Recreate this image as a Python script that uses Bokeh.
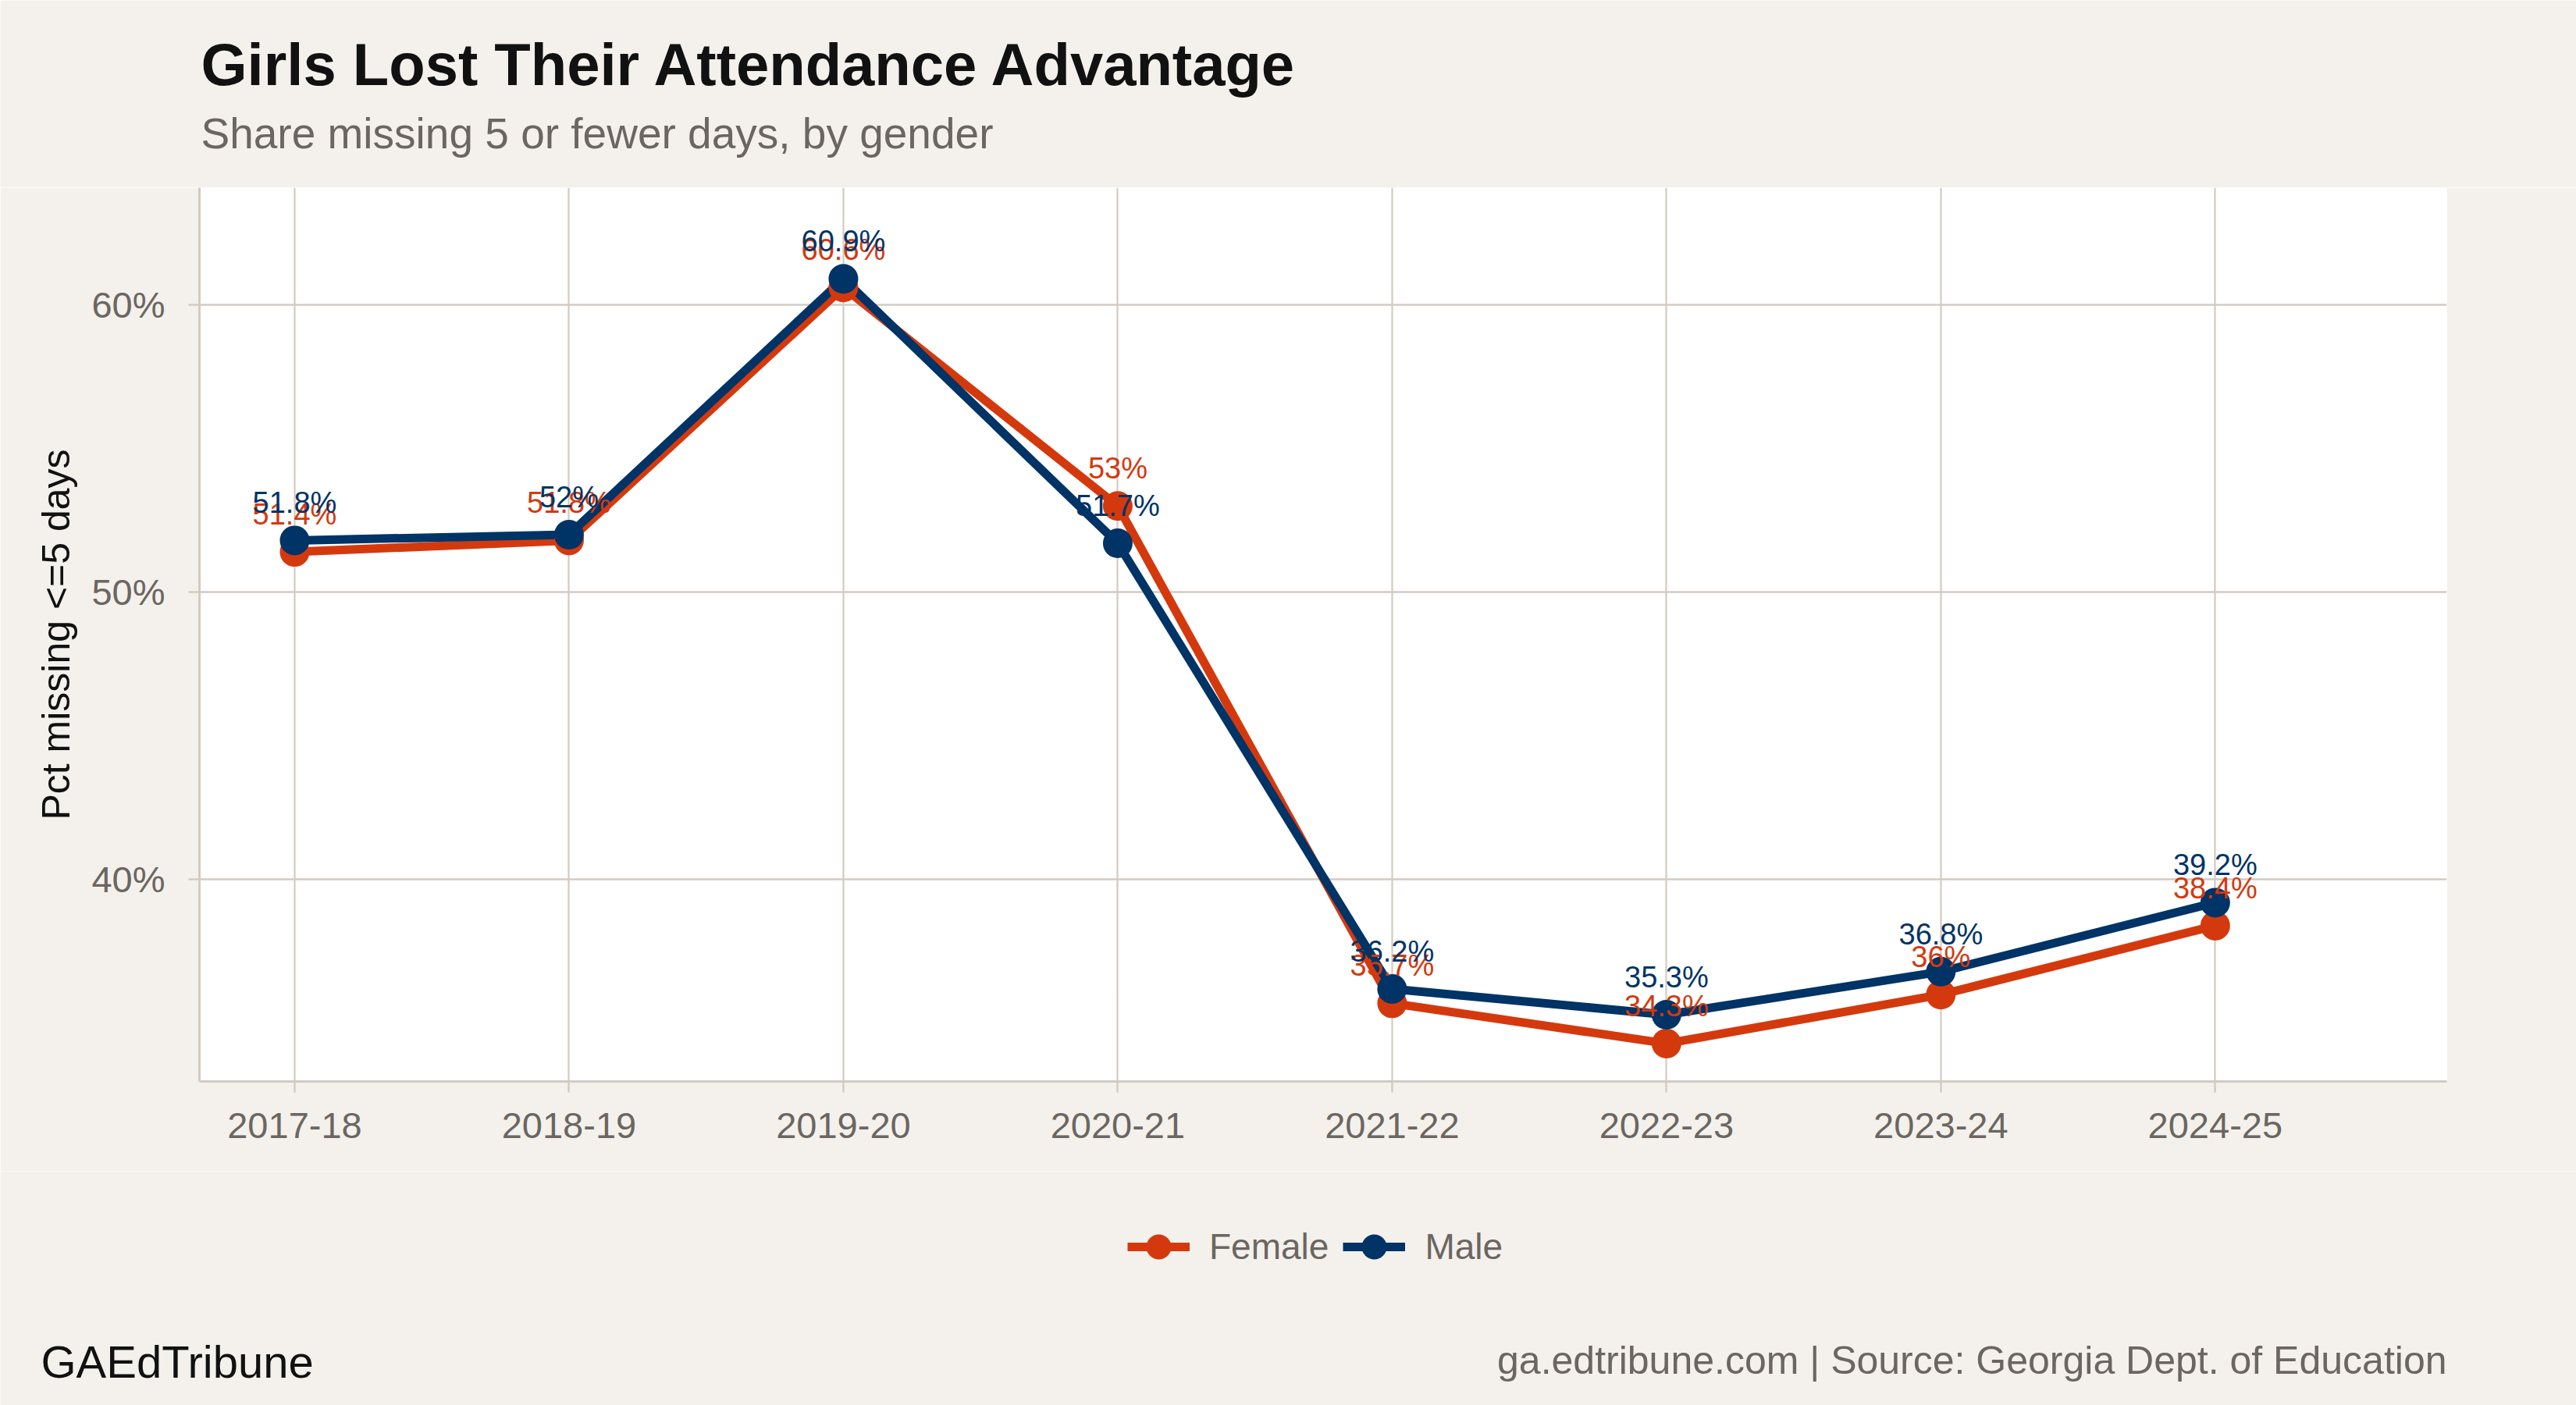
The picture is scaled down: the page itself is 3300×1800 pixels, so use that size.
from bokeh.plotting import figure
from bokeh.models import Label, Legend, LegendItem, FixedTicker, ColumnDataSource, Range1d
from bokeh.layouts import column
from bokeh.embed import file_html
from bokeh.resources import INLINE
from bokeh.core.properties import value

# ---- data ----
seasons = ["2017-18", "2018-19", "2019-20", "2020-21", "2021-22", "2022-23", "2023-24", "2024-25"]
female = [51.4, 51.8, 60.6, 53.0, 35.7, 34.3, 36.0, 38.4]
male = [51.8, 52.0, 60.9, 51.7, 36.2, 35.3, 36.8, 39.2]
y_ticks = [40, 50, 60]
y_tick_labels = ["40%", "50%", "60%"]
series_names = ["Female", "Male"]
series_colors = ["#D4390E", "#003366"]

title_text = "Girls Lost Their Attendance Advantage"
subtitle_text = "Share missing 5 or fewer days, by gender"
y_label = "Pct missing <=5 days"
footer_left = "GAEdTribune"
footer_right = "ga.edtribune.com | Source: Georgia Dept. of Education"

# ---- layout constants ----
W = 3300
HEAD_H, MAIN_H, FOOT_H = 240, 1260, 300
FL, FR = 255, 3134            # frame left / right (canvas px)
MAIN_BOTTOM = 115             # space under frame inside main figure
FONT = "Liberation Sans"
BG = "#F4F1EC"
GRAY_TXT = "#6B6661"
GRID = "#D2CBC2"
BASE_SHIFT = 0.4              # baseline correction (fraction of font size)


def blank(h):
    f = figure(width=W, height=h, output_backend="svg", toolbar_location=None,
               x_range=Range1d(0, W), y_range=Range1d(0, h),
               x_axis_type=None, y_axis_type=None, min_border=0)
    f.frame_align = False
    f.title.visible = False
    f.border_fill_color = BG
    f.background_fill_color = BG
    f.outline_line_color = None
    f.grid.visible = False
    return f


def lab(fig, x, y, text, size, color, style="normal", align="left"):
    fig.add_layout(Label(x=x, y=y + BASE_SHIFT * size, text=text, text_font=FONT,
                         text_font_size=f"{size}px", text_font_style=style,
                         text_color=color, text_align=align, text_baseline="alphabetic"))


# ---- header ----
head = blank(HEAD_H)
lab(head, 257, HEAD_H - 112, title_text, 76, "#111111", style="bold")
lab(head, 257, HEAD_H - 192, subtitle_text, 55, GRAY_TXT)

# ---- main chart ----
x_pos = list(range(1, len(seasons) + 1))

p = figure(width=W, height=MAIN_H, output_backend="svg", toolbar_location=None,
           x_range=Range1d(0.653, 8.844), y_range=Range1d(32.98, 64.07),
           min_border_left=FL, min_border_right=W - FR,
           min_border_top=0, min_border_bottom=MAIN_BOTTOM)
p.frame_align = False
p.title.visible = False
p.border_fill_color = BG
p.background_fill_color = "white"
p.outline_line_color = None

p.xaxis.ticker = FixedTicker(ticks=x_pos)
p.xaxis.major_label_overrides = {i: s for i, s in zip(x_pos, seasons)}
p.yaxis.ticker = FixedTicker(ticks=y_ticks)
p.yaxis.major_label_overrides = {t: s for t, s in zip(y_ticks, y_tick_labels)}
for ax in (p.xaxis[0], p.yaxis[0]):
    ax.axis_line_color = GRID
    ax.axis_line_width = 3
    ax.major_tick_line_color = GRID
    ax.major_tick_line_width = 2.5
    ax.major_tick_in = 0
    ax.major_tick_out = 14
    ax.minor_tick_line_color = None
    ax.major_label_text_font = FONT
    ax.major_label_text_font_size = "47px"
    ax.major_label_text_color = GRAY_TXT
p.xaxis.major_label_standoff = 26
p.yaxis.major_label_standoff = 30
p.yaxis.axis_label = y_label
p.yaxis.axis_label_text_font = FONT
p.yaxis.axis_label_text_font_size = "50px"
p.yaxis.axis_label_text_font_style = "normal"
p.yaxis.axis_label_text_color = "#111111"
p.yaxis.axis_label_standoff = 14

p.xgrid.grid_line_color = GRID
p.xgrid.grid_line_width = 2.2
p.ygrid.grid_line_color = GRID
p.ygrid.grid_line_width = 2.5
p.xgrid.ticker = FixedTicker(ticks=x_pos)
p.ygrid.ticker = FixedTicker(ticks=y_ticks)

series_vals = [female, male]
srcs = [ColumnDataSource(dict(x=x_pos, y=vals, lab=[f"{v:g}%" for v in vals]))
        for vals in series_vals]
for src, col in zip(srcs, series_colors):
    p.line("x", "y", source=src, line_color=col, line_width=11)
for src, col in zip(srcs, series_colors):
    p.scatter("x", "y", source=src, size=38, fill_color=col, line_color=None)
for src, col in zip(srcs, series_colors):
    p.text("x", "y", text="lab", source=src, y_offset=-48, text_align="center",
           text_baseline="alphabetic", text_font=value(FONT), text_font_size="38px",
           text_color=col)

# ---- footer: legend + source line ----
foot = blank(FOOT_H)
nan = float("nan")
items = []
for name, col in zip(series_names, series_colors):
    proxy = ColumnDataSource(dict(x=[nan], y=[nan]))
    lr = foot.line("x", "y", source=proxy, line_color=col, line_width=11)
    sr = foot.scatter("x", "y", source=proxy, size=38, fill_color=col, line_color=None)
    items.append(LegendItem(label=name, renderers=[lr, sr]))
legend = Legend(items=items, location=(1444, FOOT_H - (1637 - 1500)),
                orientation="horizontal",
                glyph_width=80, glyph_height=80, label_standoff=25, spacing=18,
                padding=0, margin=0, border_line_color=None, background_fill_alpha=0,
                label_text_font=FONT, label_text_font_size="46px",
                label_text_color=GRAY_TXT)
foot.add_layout(legend)
lab(foot, 52, 1800 - 1767, footer_left, 58, "#111111")
lab(foot, FR, 1800 - 1762, footer_right, 50, GRAY_TXT, align="right")

page = column(head, p, foot, spacing=0)
open("out.html", "w").write(file_html(page, INLINE))
